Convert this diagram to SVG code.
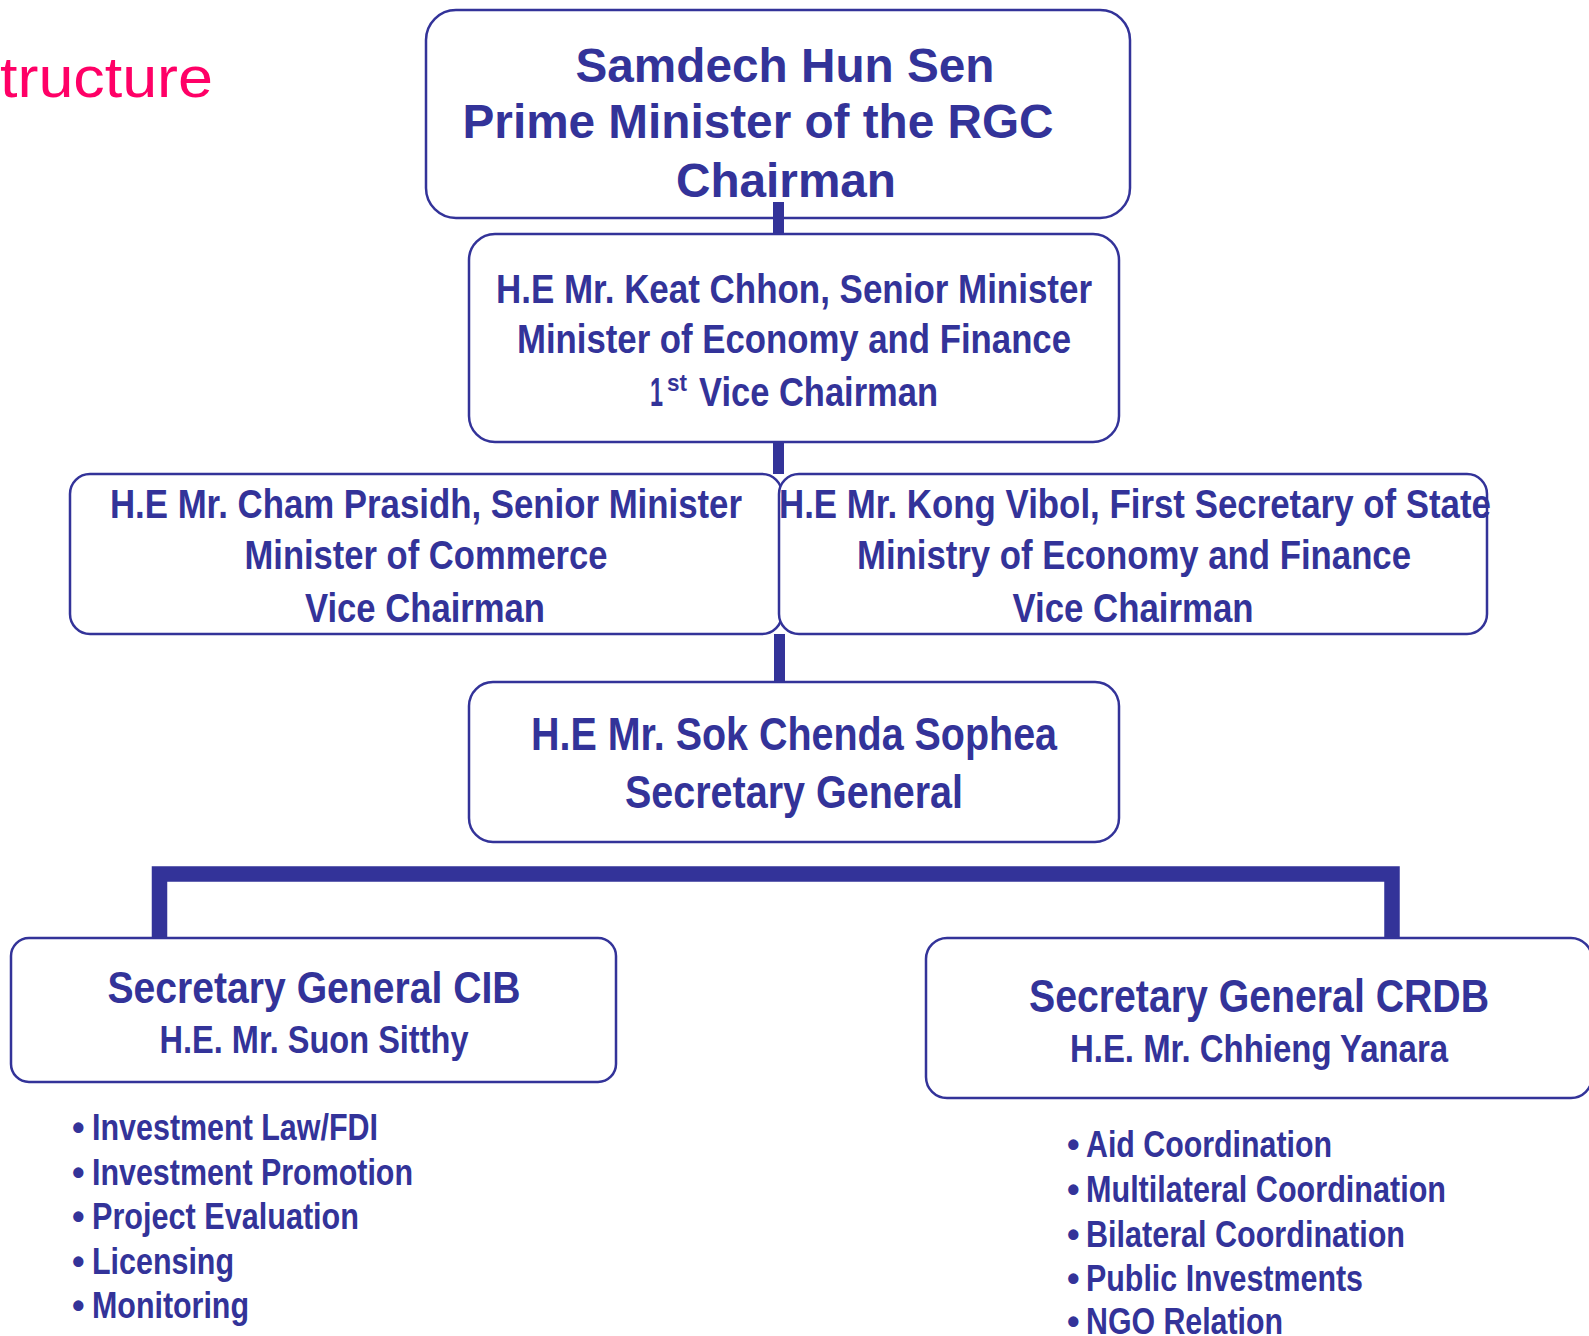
<svg xmlns="http://www.w3.org/2000/svg" width="1589" height="1336" viewBox="0 0 1589 1336">
<style>
.box{fill:#ffffff;stroke:#333399;stroke-width:2.5}
.t{font-family:"Liberation Sans Narrow","Liberation Sans",Arial,sans-serif;font-weight:bold;fill:#333399;text-anchor:middle}
.w{font-family:"Liberation Sans",Arial,sans-serif;font-weight:bold;fill:#333399;text-anchor:middle}
.l{font-family:"Liberation Sans Narrow","Liberation Sans",Arial,sans-serif;font-weight:bold;fill:#333399;text-anchor:start}
.bar{fill:#333399}
.hbar{fill:none;stroke:#333399;stroke-width:15.5;stroke-linejoin:miter}
.title{font-family:"Liberation Sans",Arial,sans-serif;fill:#ff0066;text-anchor:end}
</style>
<rect width="1589" height="1336" fill="#ffffff"/>
<text class="title" x="213" y="97" font-size="57" textLength="213" lengthAdjust="spacingAndGlyphs">tructure</text>

<g id="node-chairman">
<rect class="box" x="426" y="10" width="704" height="208" rx="30" ry="30"/>
<text class="w" x="785" y="82" font-size="48" textLength="419" lengthAdjust="spacingAndGlyphs">Samdech Hun Sen</text>
<text class="w" x="758" y="138" font-size="48" textLength="591" lengthAdjust="spacingAndGlyphs">Prime Minister of the RGC</text>
<text class="w" x="786" y="197" font-size="48" textLength="220" lengthAdjust="spacingAndGlyphs">Chairman</text>
</g>

<g id="node-first-vice">
<rect class="box" x="469" y="234" width="650" height="208" rx="26" ry="26"/>
<text class="t" x="794" y="302.5" font-size="41" textLength="596" lengthAdjust="spacingAndGlyphs">H.E Mr. Keat Chhon, Senior Minister</text>
<text class="t" x="794" y="353" font-size="41" textLength="554" lengthAdjust="spacingAndGlyphs">Minister of Economy and Finance</text>
<text class="l" x="650" y="405.5" font-size="41" textLength="13" lengthAdjust="spacingAndGlyphs">1</text>
<text class="l" x="667" y="391" font-size="24" textLength="20" lengthAdjust="spacingAndGlyphs">st</text>
<text class="l" x="699" y="405.5" font-size="41" textLength="239" lengthAdjust="spacingAndGlyphs">Vice Chairman</text>
</g>

<g id="node-vice-commerce">
<rect class="box" x="70" y="474" width="712" height="160" rx="20" ry="20"/>
<text class="t" x="426" y="518" font-size="41" textLength="632" lengthAdjust="spacingAndGlyphs">H.E Mr. Cham Prasidh, Senior Minister</text>
<text class="t" x="426" y="569" font-size="41" textLength="363" lengthAdjust="spacingAndGlyphs">Minister of Commerce</text>
<text class="t" x="425" y="622" font-size="41" textLength="240" lengthAdjust="spacingAndGlyphs">Vice Chairman</text>
</g>

<g id="node-vice-mef">
<rect class="box" x="779" y="474" width="708" height="160" rx="20" ry="20"/>
<text class="t" x="1135" y="518" font-size="41" textLength="712" lengthAdjust="spacingAndGlyphs">H.E Mr. Kong Vibol, First Secretary of State</text>
<text class="t" x="1134" y="569" font-size="41" textLength="554" lengthAdjust="spacingAndGlyphs">Ministry of Economy and Finance</text>
<text class="t" x="1133" y="622" font-size="41" textLength="241" lengthAdjust="spacingAndGlyphs">Vice Chairman</text>
</g>

<g id="node-secretary-general">
<rect class="box" x="469" y="682" width="650" height="160" rx="24" ry="24"/>
<text class="t" x="794" y="750" font-size="46" textLength="526" lengthAdjust="spacingAndGlyphs">H.E Mr. Sok Chenda Sophea</text>
<text class="t" x="794" y="808" font-size="46" textLength="338" lengthAdjust="spacingAndGlyphs">Secretary General</text>
</g>

<g id="node-cib">
<rect class="box" x="11" y="938" width="605" height="144" rx="18" ry="18"/>
<text class="t" x="314" y="1003" font-size="45" textLength="413" lengthAdjust="spacingAndGlyphs">Secretary General CIB</text>
<text class="t" x="314" y="1053" font-size="38" textLength="309" lengthAdjust="spacingAndGlyphs">H.E. Mr. Suon Sitthy</text>
</g>

<g id="list-cib">
<text class="l" x="72" y="1140" font-size="36">•</text>
<text class="l" x="92" y="1140" font-size="36" textLength="286" lengthAdjust="spacingAndGlyphs">Investment Law/FDI</text>
<text class="l" x="72" y="1185" font-size="36">•</text>
<text class="l" x="92" y="1185" font-size="36" textLength="321" lengthAdjust="spacingAndGlyphs">Investment Promotion</text>
<text class="l" x="72" y="1229" font-size="36">•</text>
<text class="l" x="92" y="1229" font-size="36" textLength="267" lengthAdjust="spacingAndGlyphs">Project Evaluation</text>
<text class="l" x="72" y="1274" font-size="36">•</text>
<text class="l" x="92" y="1274" font-size="36" textLength="142" lengthAdjust="spacingAndGlyphs">Licensing</text>
<text class="l" x="72" y="1318" font-size="36">•</text>
<text class="l" x="92" y="1318" font-size="36" textLength="157" lengthAdjust="spacingAndGlyphs">Monitoring</text>
</g>

<g id="node-crdb">
<rect class="box" x="926" y="938" width="666" height="160" rx="21" ry="21"/>
<text class="t" x="1259" y="1012" font-size="47" textLength="460" lengthAdjust="spacingAndGlyphs">Secretary General CRDB</text>
<text class="t" x="1259" y="1062" font-size="39" textLength="378" lengthAdjust="spacingAndGlyphs">H.E. Mr. Chhieng Yanara</text>
</g>

<g id="list-crdb">
<text class="l" x="1067" y="1157" font-size="36">•</text>
<text class="l" x="1086" y="1157" font-size="36" textLength="246" lengthAdjust="spacingAndGlyphs">Aid Coordination</text>
<text class="l" x="1067" y="1202" font-size="36">•</text>
<text class="l" x="1086" y="1202" font-size="36" textLength="360" lengthAdjust="spacingAndGlyphs">Multilateral Coordination</text>
<text class="l" x="1067" y="1247" font-size="36">•</text>
<text class="l" x="1086" y="1247" font-size="36" textLength="319" lengthAdjust="spacingAndGlyphs">Bilateral Coordination</text>
<text class="l" x="1067" y="1291" font-size="36">•</text>
<text class="l" x="1086" y="1291" font-size="36" textLength="277" lengthAdjust="spacingAndGlyphs">Public Investments</text>
<text class="l" x="1067" y="1334" font-size="36">•</text>
<text class="l" x="1086" y="1334" font-size="36" textLength="197" lengthAdjust="spacingAndGlyphs">NGO Relation</text>
</g>

<g id="connectors">
<rect class="bar" x="773" y="202" width="11" height="32"/>
<rect class="bar" x="773" y="442" width="11" height="32"/>
<rect class="bar" x="774" y="634" width="11" height="48"/>
<path class="hbar" d="M159.5 938 V874 H1392 V938"/>
</g>
</svg>
